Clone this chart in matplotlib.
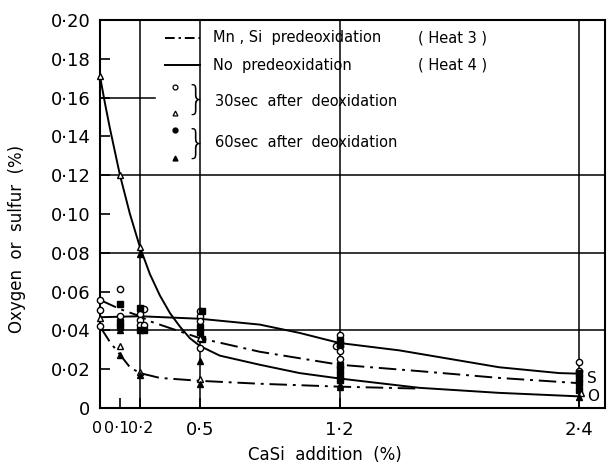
import matplotlib
matplotlib.use("Agg")
import matplotlib.pyplot as plt
import matplotlib.transforms as mtransforms

plt.rcParams['font.family'] = ['DejaVu Sans']

# ---- fitted curves: CaSi addition (%) -> content (%) ----
# Heat 4 (no predeoxidation), oxygen
h4_O_x = [0, 0.025, 0.05, 0.075, 0.1, 0.15, 0.2, 0.25, 0.3, 0.35, 0.4, 0.45, 0.5, 0.6, 0.8, 1.0, 1.2, 1.4, 1.6, 2.0, 2.4]
h4_O_y = [0.171, 0.157, 0.144, 0.132, 0.120, 0.100, 0.083, 0.069, 0.058, 0.049, 0.042, 0.036, 0.032, 0.027, 0.0223, 0.018, 0.0152, 0.0128, 0.0104, 0.0078, 0.006]
# Heat 4 (no predeoxidation), sulfur
h4_S_x = [0, 0.2, 0.5, 0.8, 1.0, 1.2, 1.5, 2.0, 2.3, 2.4]
h4_S_y = [0.0468, 0.0473, 0.046, 0.043, 0.0387, 0.0335, 0.0297, 0.021, 0.018, 0.0177]
# Heat 3 (Mn, Si predeoxidation), sulfur
h3_S_x = [0, 0.1, 0.2, 0.25, 0.5, 0.8, 1.2, 1.6, 2.0, 2.4]
h3_S_y = [0.0557, 0.051, 0.0473, 0.0447, 0.036, 0.029, 0.0223, 0.019, 0.0155, 0.0128]
# Heat 3 (Mn, Si predeoxidation), oxygen
h3_O_x = [0, 0.05, 0.1, 0.15, 0.2, 0.3, 0.5, 0.8, 1.2, 1.6]
h3_O_y = [0.042, 0.034, 0.0275, 0.021, 0.018, 0.0155, 0.014, 0.0125, 0.011, 0.0100]

# ---- analysed samples ----
# sulfur, 30 sec after deoxidation
s30_x = [0, 0, 0, 0.1, 0.1, 0.2, 0.22, 0.2, 0.2, 0.22, 0.5, 0.5, 0.5, 0.5,
         1.2, 1.18, 1.2, 1.2, 1.2, 2.4, 2.4]
s30_y = [0.0557, 0.0505, 0.0421, 0.0615, 0.0473, 0.0482, 0.0511, 0.0456, 0.043, 0.043,
         0.0499, 0.0473, 0.0447, 0.031, 0.0378, 0.0318, 0.0318, 0.0292, 0.0252, 0.0235, 0.0193]
# sulfur, 60 sec after deoxidation
s60_x = [0.1, 0.1, 0.1, 0.2, 0.2, 0.22, 0.51, 0.5, 0.5, 0.51,
         1.2, 1.2, 1.2, 1.2, 1.2, 1.2, 2.4, 2.4, 2.4, 2.4]
s60_y = [0.0534, 0.0445, 0.042, 0.0518, 0.040, 0.040, 0.0499, 0.042, 0.039, 0.0356,
         0.0349, 0.0332, 0.0223, 0.020, 0.0171, 0.0145, 0.018, 0.0154, 0.0128, 0.0093]
# oxygen, 30 sec after deoxidation
o30_x = [0, 0, 0.1, 0.1, 0.2, 0.2, 0.5, 0.5, 1.2, 2.41]
o30_y = [0.171, 0.0465, 0.120, 0.0318, 0.083, 0.0188, 0.036, 0.0149, 0.0119, 0.0076]
# oxygen, 60 sec after deoxidation
o60_x = [0.1, 0.1, 0.2, 0.2, 0.5, 0.5, 1.2, 2.4]
o60_y = [0.040, 0.0275, 0.0793, 0.017, 0.024, 0.0124, 0.011, 0.0059]

x_ticks = [0, 0.1, 0.2, 0.5, 1.2, 2.4]
x_ticklabels = ["0", "0·1", "0·2", "0·5", "1·2", "2·4"]
y_ticks = [0, 0.02, 0.04, 0.06, 0.08, 0.10, 0.12, 0.14, 0.16, 0.18, 0.20]
y_ticklabels = ["0", "0·02", "0·04", "0·06", "0·08", "0·10", "0·12", "0·14", "0·16", "0·18", "0·20"]

fig = plt.figure(figsize=(6.08, 4.65), dpi=100)
ax = fig.add_axes([100 / 608, 57 / 465, 505 / 608, 388 / 465])
ax.set_xlim(0, 2.53)
ax.set_ylim(0, 0.2)

for sp in ax.spines.values():
    sp.set_linewidth(1.5)

# grid
for gx in [0.2, 0.5, 1.2, 2.4]:
    ax.axvline(gx, color='black', lw=1.1, zorder=1)
for gy in [0.04, 0.08, 0.12]:
    ax.axhline(gy, color='black', lw=1.1, zorder=1)
ax.axhline(0.16, xmax=0.109, color='black', lw=1.1, zorder=1)

dashdot = (0, (9, 3, 1.5, 3))
lw = 1.4
ax.plot(h4_O_x, h4_O_y, color='black', lw=lw, zorder=2)
ax.plot(h4_S_x, h4_S_y, color='black', lw=lw, zorder=2)
ax.plot(h3_S_x, h3_S_y, color='black', lw=lw, ls=dashdot, zorder=2)
ax.plot(h3_O_x, h3_O_y, color='black', lw=lw, ls=dashdot, zorder=2)

ms = 4.5
ax.plot(s30_x, s30_y, 'o', ms=ms, mfc='white', mec='black', mew=1.0, zorder=4, clip_on=False)
ax.plot(s60_x, s60_y, 's', ms=3.8, mfc='black', mec='black', zorder=4, clip_on=False)
ax.plot(o30_x, o30_y, '^', ms=ms, mfc='white', mec='black', mew=1.0, zorder=4, clip_on=False)
ax.plot(o60_x, o60_y, '^', ms=ms, mfc='black', mec='black', zorder=4, clip_on=False)

ax.text(2.44, 0.015, "S", fontsize=11, va='center', ha='left')
ax.text(2.44, 0.0057, "O", fontsize=11, va='center', ha='left')

# ticks
ax.set_xticks(x_ticks)
ax.set_xticklabels(x_ticklabels)
ax.set_yticks(y_ticks)
ax.set_yticklabels(y_ticklabels)
ax.tick_params(axis='both', direction='in', length=7, width=1.2, labelsize=13, colors='black')
ax.tick_params(axis='x', pad=9)
ax.tick_params(axis='y', pad=7)
for i, lbl in enumerate(ax.get_xticklabels()[:3]):
    lbl.set_fontfamily(['Liberation Sans Narrow', 'DejaVu Sans'])
    lbl.set_fontsize(11.5)
    shift = [-3, -3, 1][i]
    lbl.set_transform(lbl.get_transform() + mtransforms.ScaledTranslation(shift / 100, 0, fig.dpi_scale_trans))

ax.set_ylabel("Oxygen  or  sulfur  (%)", fontsize=12)
ax.yaxis.set_label_coords(-0.147, 0.436)
ax.set_xlabel("CaSi  addition  (%)", fontsize=12)
ax.xaxis.set_label_coords(0.446, -0.098)

# key
T = ax.transAxes
ax.plot([0.129, 0.198], [0.954, 0.954], transform=T, color='black', lw=lw, ls=(0, (5, 2, 1.2, 2)))
ax.plot([0.129, 0.198], [0.884, 0.884], transform=T, color='black', lw=lw)
ax.text(0.224, 0.954, "Mn , Si  predeoxidation", transform=T, fontsize=10.5, va='center')
ax.text(0.63, 0.954, "( Heat 3 )", transform=T, fontsize=10.5, va='center')
ax.text(0.224, 0.884, "No  predeoxidation", transform=T, fontsize=10.5, va='center')
ax.text(0.63, 0.884, "( Heat 4 )", transform=T, fontsize=10.5, va='center')
ax.plot([0.149], [0.827], 'o', ms=3.5, mfc='white', mec='black', mew=0.9, transform=T)
ax.plot([0.149], [0.760], '^', ms=3.5, mfc='white', mec='black', mew=0.9, transform=T)
ax.plot([0.149], [0.716], 'o', ms=3.5, mfc='black', mec='black', transform=T)
ax.plot([0.149], [0.644], '^', ms=3.5, mfc='black', mec='black', transform=T)
ax.text(0.19, 0.794, "}", transform=T, fontsize=24, va='center', ha='center', fontweight='light')
ax.text(0.19, 0.680, "}", transform=T, fontsize=24, va='center', ha='center', fontweight='light')
ax.text(0.228, 0.789, "30sec  after  deoxidation", transform=T, fontsize=10.5, va='center')
ax.text(0.228, 0.683, "60sec  after  deoxidation", transform=T, fontsize=10.5, va='center')

fig.savefig("out.png", dpi=100)
